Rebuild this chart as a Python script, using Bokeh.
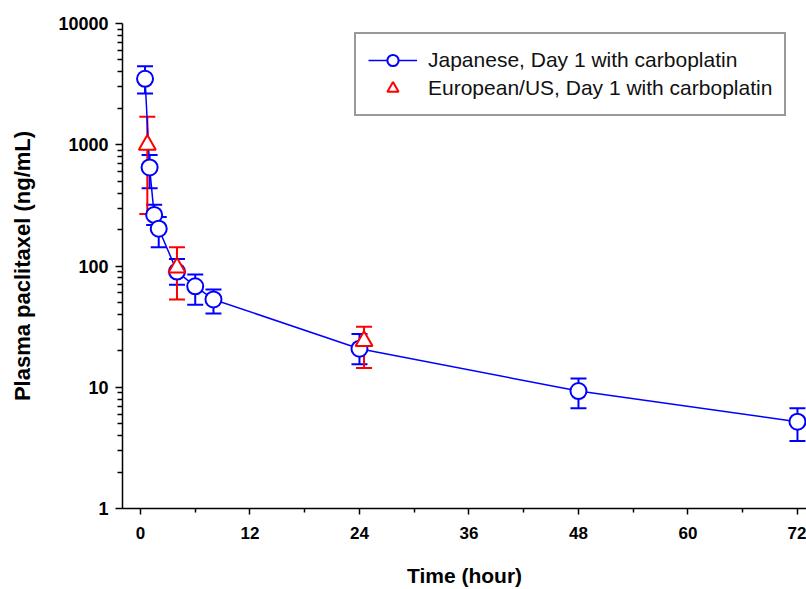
from bokeh.plotting import figure
from bokeh.models import (ColumnDataSource, Whisker, TeeHead, FixedTicker, Legend,
                          LegendItem, Range1d)
from bokeh.embed import file_html
from bokeh.resources import INLINE

# ---- data ----
jp_time = [0.5, 1, 1.5, 2, 4, 6, 8, 24, 48, 72]
jp_conc = [3500, 650, 264, 203, 90, 68, 53, 20.8, 9.3, 5.2]
jp_upper = [4440, 822, 320, 253, 114, 85, 64, 27.5, 11.8, 6.7]
jp_lower = [2644, 438, 218, 143, 70, 48, 40.6, 15.5, 6.7, 3.6]

eu_time = [0.75, 4, 24.5]
eu_conc = [1000, 97, 24]
eu_upper = [1700, 143, 31.6]
eu_lower = [268, 53, 14.4]

x_ticks = [0, 12, 24, 36, 48, 60, 72]
x_minor = [6, 18, 30, 42, 54, 66]
y_ticks = [1, 10, 100, 1000, 10000]
y_minor = [m * d for d in y_ticks[:-1] for m in range(2, 10)]

jp_label = "Japanese, Day 1 with carboplatin"
eu_label = "European/US, Day 1 with carboplatin"
x_title = "Time (hour)"
y_title = "Plasma paclitaxel (ng/mL)"

BLUE = "#0000ff"
RED = "#ff0000"
FONT = "Liberation Sans"

jp = ColumnDataSource(dict(x=jp_time, y=jp_conc, upper=jp_upper, lower=jp_lower))
eu = ColumnDataSource(dict(x=eu_time, y=eu_conc, upper=eu_upper, lower=eu_lower))

p = figure(width=806, height=589, y_axis_type="log",
           x_range=Range1d(-1.97, 72.99), y_range=Range1d(1, 10000),
           output_backend="svg", toolbar_location=None,
           min_border_left=122, min_border_right=0,
           min_border_top=23, min_border_bottom=79)
p.outline_line_color = None
p.xgrid.visible = False
p.ygrid.visible = False
p.background_fill_color = "white"
p.border_fill_color = "white"

# axes
p.xaxis.ticker = FixedTicker(ticks=x_ticks, minor_ticks=x_minor)
p.yaxis.ticker = FixedTicker(ticks=y_ticks, minor_ticks=y_minor)
p.yaxis.major_label_overrides = {t: str(t) for t in y_ticks}
for ax in (p.xaxis[0], p.yaxis[0]):
    ax.axis_line_color = "black"
    ax.axis_line_width = 1.5
    ax.major_tick_line_color = "black"
    ax.major_tick_line_width = 1.5
    ax.minor_tick_line_color = "black"
    ax.minor_tick_line_width = 1.5
    ax.major_tick_in = 0
    ax.minor_tick_in = 0
    ax.major_label_text_font = FONT
    ax.major_label_text_font_style = "bold"
    ax.major_label_text_color = "black"
    ax.axis_label_text_font = FONT
    ax.axis_label_text_font_style = "bold"
    ax.axis_label_text_color = "black"

p.xaxis.major_tick_out = 6
p.xaxis.minor_tick_out = 4
p.yaxis.major_tick_out = 7
p.yaxis.minor_tick_out = 5
p.xaxis.major_label_text_font_size = "17px"
p.yaxis.major_label_text_font_size = "18px"
p.xaxis.major_label_standoff = 12
p.yaxis.major_label_standoff = 7
p.xaxis.axis_label = x_title
p.yaxis.axis_label = y_title
p.xaxis.axis_label_text_font_size = "21px"
p.yaxis.axis_label_text_font_size = "22px"
p.xaxis.axis_label_standoff = 22
p.yaxis.axis_label_standoff = 20

# Japanese series
jp_line = p.line("x", "y", source=jp, line_color=BLUE, line_width=1.5)
p.add_layout(Whisker(source=jp, base="x", upper="upper", lower="lower",
                     line_color=BLUE, line_width=2,
                     upper_head=TeeHead(size=16, line_color=BLUE, line_width=2),
                     lower_head=TeeHead(size=16, line_color=BLUE, line_width=2)))
jp_pts = p.scatter("x", "y", source=jp, marker="circle", size=16,
                   line_color=BLUE, line_width=2, fill_color="white")

# European/US series
p.add_layout(Whisker(source=eu, base="x", upper="upper", lower="lower",
                     line_color=RED, line_width=2,
                     upper_head=TeeHead(size=16, line_color=RED, line_width=2),
                     lower_head=TeeHead(size=16, line_color=RED, line_width=2)))
eu_pts = p.scatter("x", "y", source=eu, marker="triangle", size=17,
                   line_color=RED, line_width=2, fill_color="white")

legend = Legend(items=[LegendItem(label=jp_label, renderers=[jp_line, jp_pts]),
                       LegendItem(label=eu_label, renderers=[eu_pts])],
                location=(232, 392), margin=0, padding=12, spacing=0,
                glyph_width=49, glyph_height=28, label_height=28,
                label_standoff=11,
                label_text_font=FONT, label_text_font_size="21px",
                label_text_color="#111111",
                border_line_color="#333333", border_line_width=2,
                background_fill_alpha=1.0)
p.add_layout(legend)

open("out.html", "w").write(file_html(p, INLINE))
